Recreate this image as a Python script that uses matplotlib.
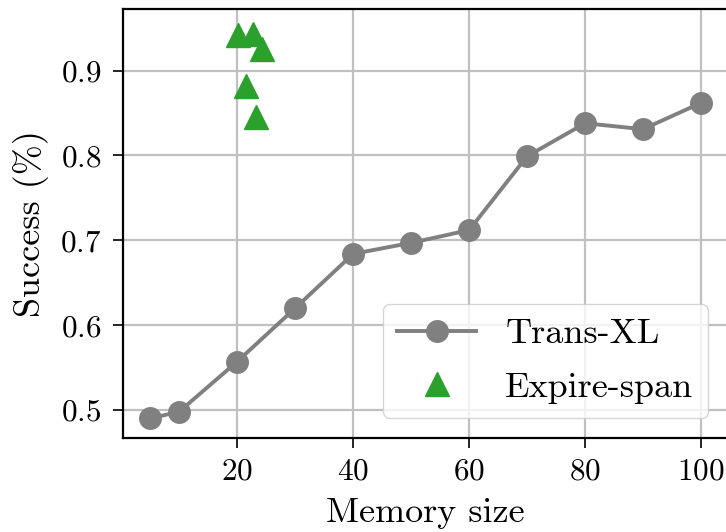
import numpy as np
import matplotlib
matplotlib.use('Agg')
import matplotlib.pyplot as plt

plt.rcParams['font.family'] = 'cmr10'
plt.rcParams['mathtext.fontset'] = 'cm'
plt.rcParams['axes.formatter.use_mathtext'] = True

mem_size = [5, 10, 20, 30, 40, 50, 60, 70, 80, 90, 100]
transxl_success = [0.490, 0.498, 0.557, 0.620, 0.684, 0.697, 0.712, 0.799, 0.838, 0.831, 0.862]

expire_mem = [20.1, 22.8, 24.2, 21.5, 23.2]
expire_success = [0.9425, 0.943, 0.9256, 0.882, 0.8455]

fig = plt.figure(figsize=(7.26, 5.32), dpi=100)
ax = fig.add_axes([0.169, 0.1773, 0.8345, 0.8058])

ax.plot(mem_size, transxl_success, '-o', color='grey', lw=2.8, ms=15.5,
        label='Trans-XL', zorder=3)
ax.plot(expire_mem, expire_success, '^', color='#2ca02c', ms=17,
        label='Expire-span', zorder=4, linestyle='none')

ax.set_xlim((0.25, 104.75))
ax.set_ylim((0.4673, 0.9727))
ax.set_xticks([20, 40, 60, 80, 100])
ax.set_yticks([0.5, 0.6, 0.7, 0.8, 0.9])
ax.grid(True, color='#c0c0c0', lw=1.6)
ax.set_axisbelow(True)
for sp in ax.spines.values():
    sp.set_linewidth(1.6)
ax.tick_params(labelsize=22.5, length=7, width=1.2)
ax.tick_params(axis='x', pad=7.5)
ax.tick_params(axis='y', pad=8.5)
ax.set_xlabel('Memory size', fontsize=26, labelpad=8.5)
ax.set_ylabel('Success (%)', fontsize=26, labelpad=8)
ax.legend(loc='lower right', fontsize=26, framealpha=0.8, borderpad=0.4,
          handlelength=2.2, handletextpad=0.8, labelspacing=0.58,
          borderaxespad=0, bbox_to_anchor=(0.966, 0.046))

fig.savefig('out.png', dpi=100)
